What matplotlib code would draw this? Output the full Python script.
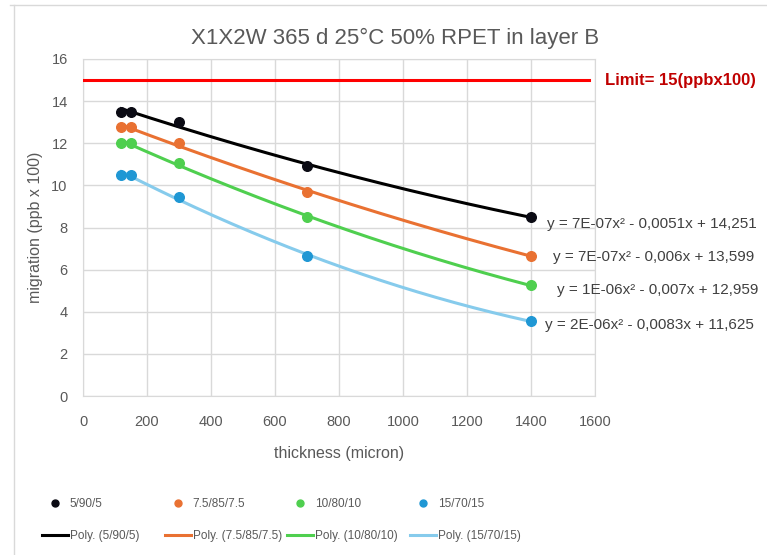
import numpy as np
import matplotlib.pyplot as plt
from matplotlib.lines import Line2D

thickness = [120, 150, 300, 700, 1400]
series_names = ['5/90/5', '7.5/85/7.5', '10/80/10', '15/70/15']
migration_5 = [13.5, 13.5, 13.0, 10.9, 8.5]
migration_75 = [12.75, 12.75, 12.0, 9.7, 6.65]
migration_10 = [12.0, 12.0, 11.05, 8.5, 5.25]
migration_15 = [10.5, 10.5, 9.45, 6.65, 3.55]
equations = ['y = 7E-07x² - 0,0051x + 14,251',
             'y = 7E-07x² - 0,006x + 13,599',
             'y = 1E-06x² - 0,007x + 12,959',
             'y = 2E-06x² - 0,0083x + 11,625']
limit = 15

point_colors = ['#0b0b14', '#E97132', '#4FCF4F', '#1F97D4']
line_colors = ['#000000', '#E97132', '#4FCF4F', '#86CBEC']
# where the trendline equations sit (data coords)
eq_pos = [(1450, 8.17), (1469, 6.6), (1481, 5.03), (1444, 3.37)]

plt.rcParams['font.family'] = ['Liberation Sans', 'DejaVu Sans']
txt = '#595959'
grid = '#D9D9D9'
W, H = 767, 555

fig = plt.figure(figsize=(7.67, 5.55), dpi=100)
ax = fig.add_axes([83/W, 1-396/H, (595-83)/W, (396-59)/H])

all_series = [migration_5, migration_75, migration_10, migration_15]
xs = np.array(thickness, dtype=float)
entries = []
for vals, name, pc, lc, eq, pos in zip(all_series, series_names, point_colors,
                                        line_colors, equations, eq_pos):
    coef = np.polyfit(xs, vals, 2)
    xx = np.linspace(xs.min(), xs.max(), 200)
    ax.plot(xx, np.polyval(coef, xx), color=lc, lw=2.2, zorder=3)
    ax.scatter(xs, vals, s=48, color=pc, zorder=4)
    ax.text(pos[0], pos[1], eq, fontsize=11, color='#404040', va='center',
            ha='left', clip_on=False)
    entries.append((Line2D([], [], ls='none', marker='o', ms=5, color=pc, label=name),
                    Line2D([], [], color=lc, lw=2.2, label=f'Poly. ({name})')))

ax.plot([0, 1580], [limit, limit], color='#FF0000', lw=2.2, zorder=3)
ax.text(1630, limit, 'Limit= 15(ppbx100)', color='#C00000', fontsize=12,
        fontweight='bold', va='center', ha='left', clip_on=False)

ax.set_xlim(0, 1600)
ax.set_ylim(0, 16)
ax.set_xticks(range(0, 1601, 200))
ax.set_yticks(range(0, 17, 2))
ax.grid(True, color=grid, lw=1)
ax.set_axisbelow(True)
for s in ax.spines.values():
    s.set_color(grid)
ax.tick_params(length=0, labelsize=10.5, colors=txt)
ax.tick_params(axis='x', pad=14)
ax.tick_params(axis='y', pad=11)
ax.set_xlabel('thickness (micron)', fontsize=11.5, color=txt, labelpad=12)
ax.set_ylabel('migration (ppb x 100)', fontsize=11.5, color=txt, labelpad=6)
ax.set_title('X1X2W 365 d 25°C 50% RPET in layer B', fontsize=16, color=txt,
             pad=11, x=(395-83)/(595-83))

# legend: one small block per column, as in the Excel layout
col_x = [42, 165, 287, 410]
for (hp, hl), cx in zip(entries, col_x):
    fig.legend(handles=[hp, hl], loc='center left', bbox_to_anchor=(cx/W, 1-520/H),
               frameon=False, fontsize=8.5, labelcolor=txt, handlelength=2.2,
               handletextpad=0.15, labelspacing=1.7, borderpad=0, borderaxespad=0)

# outer chart frame (cropped screenshot)
fig.add_artist(Line2D([14/W, 14/W], [0, 1-5/H], color=grid, lw=1, transform=fig.transFigure))
fig.add_artist(Line2D([10/W, 1], [1-5/H, 1-5/H], color=grid, lw=1, transform=fig.transFigure))

fig.savefig('out.png', dpi=100)
